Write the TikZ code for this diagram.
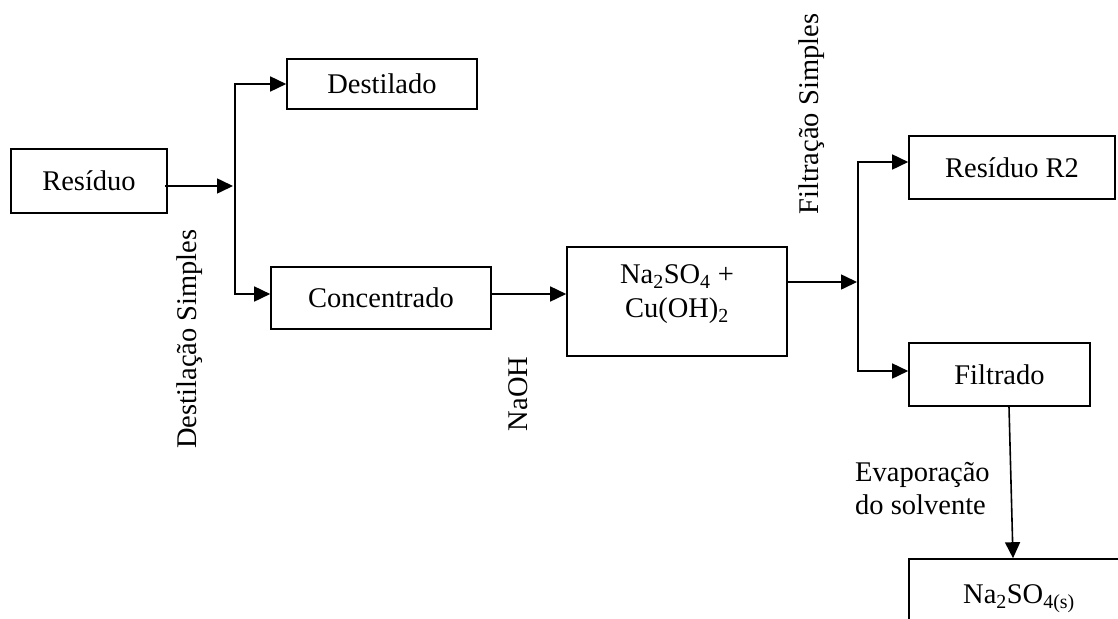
\documentclass[tikz,border=0pt]{standalone}
\usepackage{fontspec}
\setmainfont{Liberation Serif}
\usetikzlibrary{arrows.meta,calc}

\newcommand{\sub}[1]{\textsubscript{#1}}

\tikzset{
  every node/.style={font=\fontsize{28.5}{33}\selectfont, inner sep=0pt},
  stage/.style={draw, line width=1.6pt, align=center},
  flow/.style={line width=1.6pt, -{Triangle[length=16pt,width=15pt]}},
  tag/.style={rotate=90}
}

\begin{document}
\begin{tikzpicture}[x=1pt, y=-1pt]
  \useasboundingbox (0,0) rectangle (1118,618);

  % process stages
  \node[stage, minimum width=156pt, minimum height=64pt]  (res)  at (89,181)    {Resíduo};
  \node[stage, minimum width=190pt, minimum height=50pt]  (dest) at (382,84)    {Destilado};
  \node[stage, minimum width=220pt, minimum height=62pt]  (conc) at (381,298)   {Concentrado};
  \node[stage, minimum width=220pt, minimum height=109pt,
        font=\fontsize{28.5}{36}\selectfont] (mix) at (677,301.5)
        {Na\sub{2}SO\sub{4} +\\[-2pt]Cu(OH)\sub{2}\rule[-20pt]{0pt}{20pt}};
  \node[stage, minimum width=206pt, minimum height=63pt]  (r2)   at (1012,167.5){Resíduo R2};
  \node[stage, minimum width=181pt, minimum height=63pt]  (filt) at (999.5,374.5){Filtrado};
  \node[stage, minimum width=220pt, minimum height=80pt]  (prod) at (1019,599)  {Na\sub{2}SO\sub{4(s)}};

  % branching points
  \coordinate (j1) at (235,186);
  \coordinate (j2) at (858,282);

  % distillation
  \draw[flow] ($(res.east)+(-3,5)$) -- ($(j1)+(-2,0)$);
  \draw[flow] (j1) |- (dest.west);
  \draw[flow] (j1) |- ($(conc.west)+(0,-4)$);

  % precipitation with NaOH
  \draw[flow] ($(conc.east)+(0,-4)$) -- ($(mix.west)+(0,-7.5)$);

  % filtration
  \draw[flow] ($(mix.east)+(0,-19.5)$) -- ($(j2)+(-1,0)$);
  \draw[flow] (j2) |- ($(r2.west)+(0,-5.5)$);
  \draw[flow] (j2) |- ($(filt.west)+(0,-3.5)$);

  % evaporation
  \draw[flow] ($(filt.south)+(9.5,0)$) -- ($(prod.north)+(-6,0)$);

  % operation labels
  \node[tag] (lbd) at (190,339) {Destilação Simples};
  \node[tag] (lbn) at (518,394) {NaOH};
  \node[tag] (lbf) at (812,114) {Filtração Simples};
  \node[align=left, anchor=west] (lbe) at (855,489) {Evaporação\\do solvente};
\end{tikzpicture}
\end{document}
